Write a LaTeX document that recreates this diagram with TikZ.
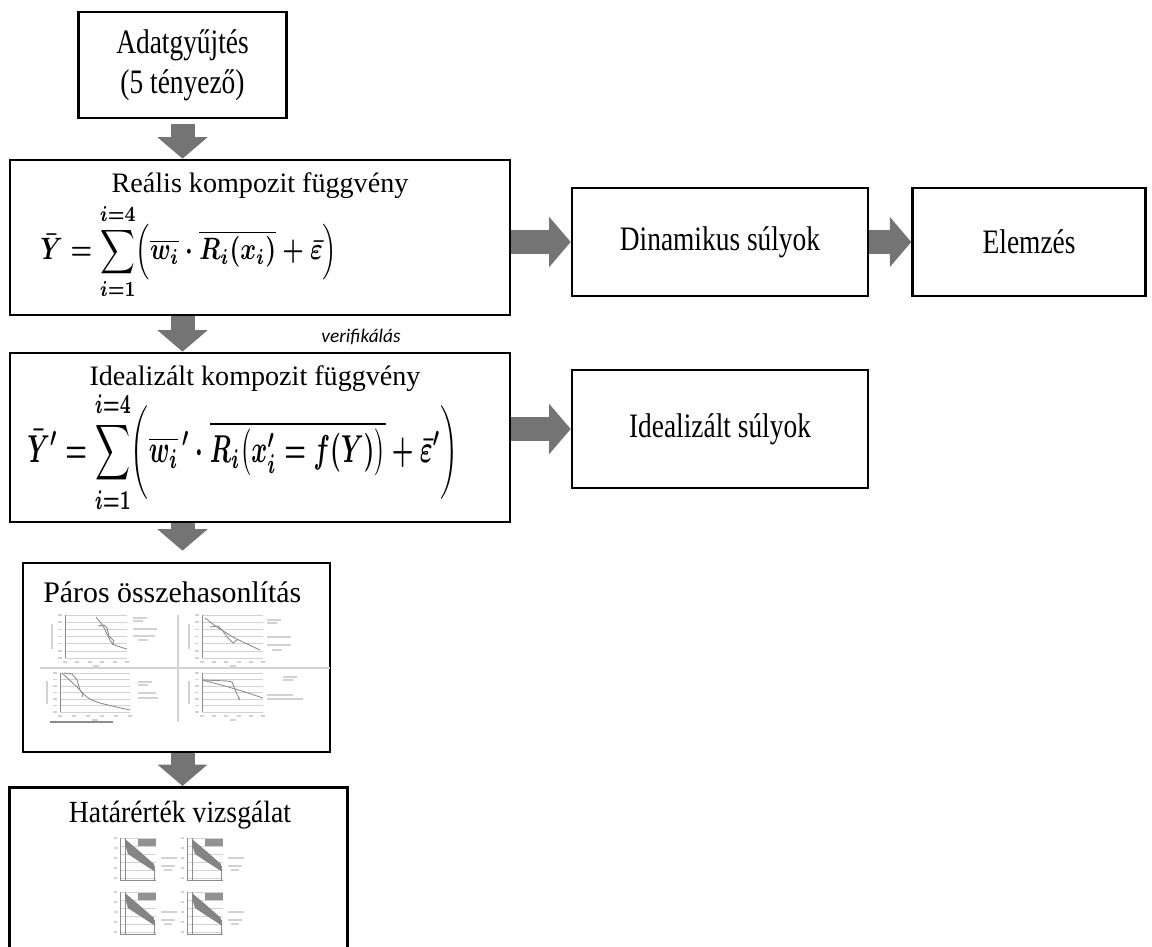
\documentclass[tikz,border=0pt]{standalone}
\usepackage{fontspec}
\setmainfont{Liberation Serif}
\newfontfamily\narrowserif{Liberation Serif}[FakeStretch=0.8]
\newfontfamily\midserif{Liberation Serif}[FakeStretch=0.9]
\newfontfamily\calib{Carlito}
\usepackage{amsmath}
\usepackage{graphicx}
\usetikzlibrary{arrows.meta,positioning,calc}
\definecolor{arrowgray}{HTML}{747474}
\definecolor{gridgray}{HTML}{D2D2D2}
\definecolor{inkgray}{HTML}{8C8C8C}
\definecolor{bandgray}{HTML}{6E6E6E}

% small chart frame: x0 y0 w h (pixel units)
\newcommand{\chartgrid}[4]{%
  \foreach \k in {0,...,6}{\draw[gridline] (#1,{#2+\k*#4/6}) -- ++(#3,0);}
  \foreach \k in {0,...,6}{\draw[gridline, line width=0.8pt] ({#1-7},{#2+\k*#4/6}) -- ++(4,0);}
  \foreach \k in {0,...,5}{\draw[gridline, line width=0.8pt] ({#1+\k*#3/5-2},{#2+#4+4}) -- ++(4,0);}
  \draw[gridline, line width=1.2pt] ({#1-13},{#2+#4*0.2}) -- ++(0,{#4*0.6});
  \draw[gridline, line width=1.2pt] ({#1+#3/2-3},{#2+#4+8}) -- ++(6,0);
  \draw[ink] (#1,#2) -- ++(0,#4);
}

\begin{document}
\begin{tikzpicture}[
    x=0.02cm, y=-0.02cm,
    box/.style={draw=black, line width=1.5pt, fill=white, inner sep=0pt, align=center},
    fat/.style={line width=0.48cm, draw=arrowgray, -{Triangle[width=0.98cm,length=0.43cm]}},
    gridline/.style={draw=gridgray, line width=0.3pt},
    ink/.style={draw=inkgray, line width=0.5pt},
    big/.style={font=\narrowserif\fontsize{19.5}{22.7}\selectfont},
    title/.style={font=\fontsize{16}{19}\selectfont, inner sep=0pt}
  ]
  \useasboundingbox (0,0) rectangle (1152,946);

  % boxes
  \node[box, big, minimum width=4.16cm, minimum height=2.12cm] (adat) at (182.5,65) {Adatgyűjtés\\(5 tényező)};
  \node[box, minimum width=10cm, minimum height=3.1cm] (realis) at (260,237.5) {};
  \node[box, big, minimum width=5.92cm, minimum height=2.16cm] (dyn) at (720,242) {Dinamikus súlyok};
  \node[box, big, minimum width=4.66cm, minimum height=2.16cm, right=0.84cm of dyn] (elem) {Elemzés};
  \node[box, minimum width=10cm, minimum height=3.38cm] (ideal) at (260,437.5) {};
  \node[box, big, minimum width=5.92cm, minimum height=2.36cm] (idsuly) at (720,429) {Idealizált súlyok};
  \node[box, minimum width=6.14cm, minimum height=3.78cm] (paros) at (176.5,657.5) {};
  \node[box, minimum width=6.76cm, minimum height=3.8cm, anchor=north west] (hatar) at (8,786) {};

  % texts in the two formula boxes
  \node[title, anchor=base] (realisT) at (260,192) {Reális kompozit függvény};
  \node[inner sep=0pt, anchor=west] (realisF) at (40,251.5) {\resizebox*{5.94cm}{1.94cm}{\boldmath$\displaystyle
    \bar{Y} = \sum_{i=1}^{i=4}\Bigl(\overline{w_i}\cdot\overline{R_i(x_i)}+\bar{\varepsilon}\Bigr)$}};
  \node[title, anchor=base] (idealT) at (255,385) {Idealizált kompozit függvény};
  \node[inner sep=0pt, anchor=west] (idealF) at (27,452) {\resizebox*{8.62cm}{2.44cm}{\boldmath$\displaystyle
    \bar{Y}^{\prime} = \sum_{i=1}^{i=4}\biggl(\overline{w_i}^{\,\prime}\cdot\overline{R_i\bigl(x_i^{\prime}=f(Y)\bigr)}+\bar{\varepsilon}^{\prime}\biggr)$}};
  \node[font=\calib\itshape\fontsize{11}{13}\selectfont] (verif) at (361,337) {verifikálás};

  % Paros osszehasonlitas
  \node[anchor=base west, inner sep=0pt, font=\fontsize{17}{20}\selectfont] (parosT) at (43,602) {Páros összehasonlítás};
  \draw[gridline, line width=0.6pt] (40,668) -- (330,668);
  \draw[gridline, line width=0.6pt] (178,615) -- (178,722);
  \draw[ink, line width=0.8pt] (50,722) -- (113,722);
  \chartgrid{65}{615}{62}{43}
  \chartgrid{202}{615}{61}{43}
  \chartgrid{60}{673}{70}{39}
  \chartgrid{202}{673}{61}{39}
  \draw[ink] plot[smooth] coordinates {(96,617) (103,626) (108,636) (113,644) (127,649)};
  \draw[ink] (98,626) -- (104,625) -- (107,628) -- (109,636) -- (114,641) -- (112,645);
  \draw[ink] plot[smooth] coordinates {(205,618) (217,627) (233,637) (243,642) (260,650)};
  \draw[ink] (210,627) -- (218,626) -- (222,630) -- (228,638) -- (233,643) -- (237,640);
  \draw[ink] plot[smooth] coordinates {(62,673) (77,687) (87,697) (100,703) (130,710)};
  \draw[ink] (64,673) -- (72,674) -- (77,680) -- (80,690) -- (83,694) -- (82,697);
  \draw[ink] plot[smooth] coordinates {(202,680) (225,686) (245,692) (263,698)};
  \draw[ink] (203,680) -- (228,681) -- (232,682) -- (236,692) -- (240,700) -- (238,697);
  \foreach \lx/\ly/\lw in {133/618/14,133/621/10,133/629/24,133/636/22,138/640/10,
                          267/620/14,267/623/10,267/637/24,267/645/24,272/650/10,
                          138/682/14,138/685/10,138/693/18,138/698/20,
                          283/677/14,283/680/10,267/695/26,267/699/36}
    \draw[gridline, line width=0.9pt] (\lx,\ly) -- ++(\lw,0);

  % Hatarertek vizsgalat
  \node[anchor=base, inner sep=0pt, font=\midserif\fontsize{17.5}{20}\selectfont] (hatarT) at (180,822) {Határérték vizsgálat};
  \foreach \cx/\cy in {120/838,187/838,120/892,187/892}{
    \foreach \k in {0,...,5}{\draw[gridline] (\cx,{\cy+\k*8}) -- ++(36,0);}
    \draw[ink] (\cx,\cy) -- ++(0,42) -- ++(36,0);
    \draw[ink] ({\cx+5},\cy) -- ++(0,42);
    \draw[ink] ({\cx+34},{\cy+28}) -- ++(0,14);
    \fill[bandgray!85] ({\cx+5},{\cy+1}) -- ({\cx+18},{\cy+12}) -- ({\cx+34},{\cy+26}) -- ({\cx+34},{\cy+33})
      -- ({\cx+20},{\cy+24}) -- ({\cx+8},{\cy+16}) -- ({\cx+5},{\cy+6}) -- cycle;
    \fill[bandgray!75] ({\cx+18},{\cy+1}) rectangle ({\cx+36},{\cy+8});
    \foreach \k in {0,...,4}{\draw[gridline, line width=0.8pt] ({\cx-6},{\cy+\k*10}) -- ++(3,0);}
    \draw[gridline, line width=0.9pt] ({\cx+41},{\cy+20}) -- ++(16,0);
    \draw[gridline, line width=0.9pt] ({\cx+41},{\cy+28}) -- ++(14,0);
    \draw[gridline, line width=0.9pt] ({\cx+44},{\cy+32}) -- ++(8,0);
  }

  % connectors
  \draw[fat, shorten <=0.1cm] (adat.south) -- (adat.south |- realis.north);
  \draw[fat] (adat.south |- realis.south) -- (adat.south |- ideal.north);
  \draw[fat, shorten >=0.22cm] (adat.south |- ideal.south) -- (adat.south |- paros.north);
  \draw[fat] (adat.south |- paros.south) -- (adat.south |- hatar.north);
  \draw[fat] (realis.east |- dyn.west) -- (dyn.west);
  \draw[fat] (dyn.east) -- (elem.west);
  \draw[fat] (ideal.east |- idsuly.west) -- (idsuly.west);
\end{tikzpicture}
\end{document}
